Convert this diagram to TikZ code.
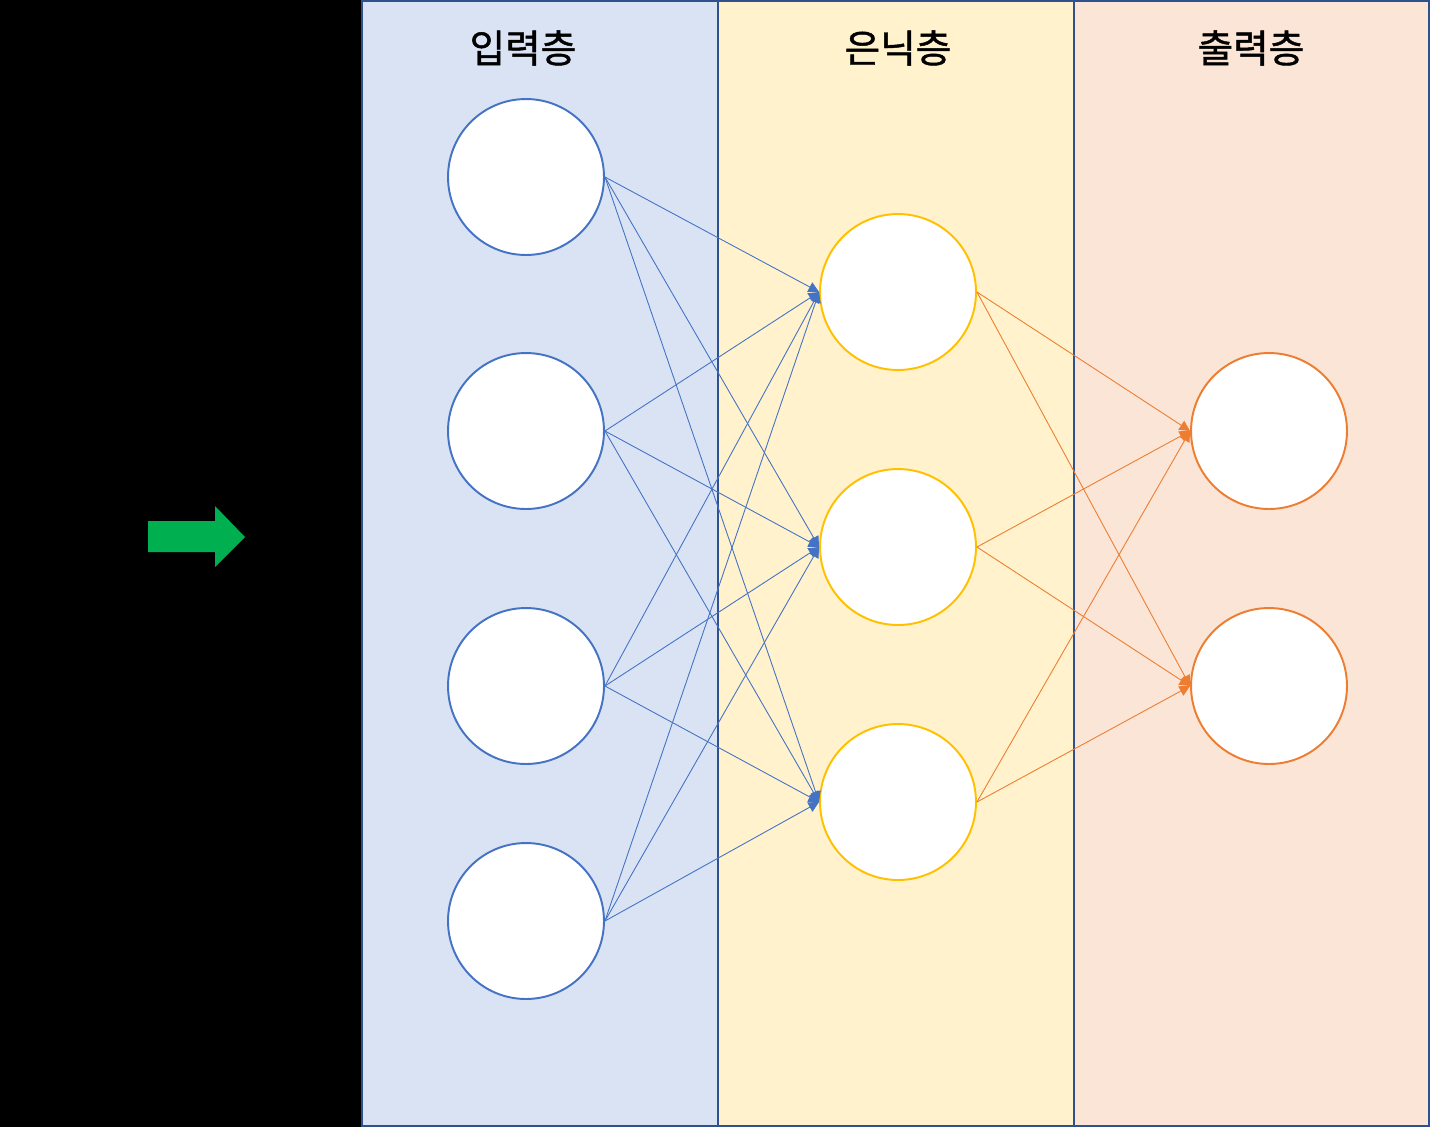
\documentclass[tikz,border=0pt]{standalone}
\usepackage{fontspec}
\newfontfamily\kr[FakeBold=1.2]{Noto Sans CJK KR}
\usetikzlibrary{arrows.meta}
\definecolor{inblue}{HTML}{DAE3F3}
\definecolor{hidyellow}{HTML}{FFF2CC}
\definecolor{outorange}{HTML}{FBE5D6}
\definecolor{edgeblue}{HTML}{4472C4}
\definecolor{edgeyellow}{HTML}{FFC000}
\definecolor{edgeorange}{HTML}{ED7D31}
\definecolor{panelline}{HTML}{2F528F}
\definecolor{arrowgreen}{HTML}{00B050}
\tikzset{
    neuron/.style={circle,fill=white,line width=1.1pt,minimum size=3.12cm,inner sep=0pt},
    layertitle/.style={font=\kr\fontsize{22}{26}\selectfont},
    link/.style={line width=0.5pt,-{Triangle[length=6pt,width=6pt]}}
}
\begin{document}
\begin{tikzpicture}[x=0.02cm,y=-0.02cm]
    \useasboundingbox (0,0) rectangle (1430,1127);
    % background and panels
    \fill[black] (0,0) rectangle (362,1127);
    \filldraw[fill=inblue,draw=panelline,line width=1.2pt] (362,1) rectangle (718,1126);
    \filldraw[fill=hidyellow,draw=panelline,line width=1.2pt] (718,1) rectangle (1074,1126);
    \filldraw[fill=outorange,draw=panelline,line width=1.2pt] (1074,1) rectangle (1429,1126);
    % green arrow
    \fill[arrowgreen] (148,521)--(215,521)--(215,506)--(245,537)--(215,567)--(215,552)--(148,552)--cycle;
    % titles
    \node[layertitle] (tin) at (523,48) {입력층};
    \node[layertitle] (thid) at (898,48) {은닉층};
    \node[layertitle] (tout) at (1251,48) {출력층};
    % neurons
    \foreach \n/\y in {1/177,2/431,3/686,4/921}
        \node[neuron,draw=edgeblue] (i\n) at (526,\y) {};
    \foreach \n/\y in {1/292,2/547,3/802}
        \node[neuron,draw=edgeyellow] (h\n) at (898,\y) {};
    \foreach \n/\y in {1/431,2/686}
        \node[neuron,draw=edgeorange] (o\n) at (1269,\y) {};
    % connections
    \foreach \a in {1,...,4}
        \foreach \b in {1,...,3}
            \draw[link,edgeblue] (i\a.east) -- (h\b.west);
    \foreach \a in {1,...,3}
        \foreach \b in {1,2}
            \draw[link,edgeorange] (h\a.east) -- (o\b.west);
\end{tikzpicture}
\end{document}
